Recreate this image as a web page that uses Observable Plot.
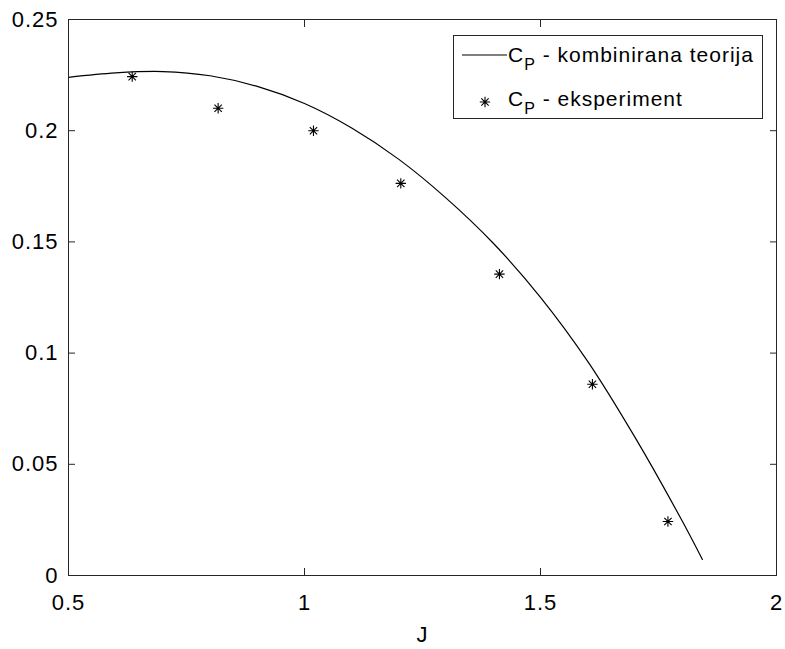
<!DOCTYPE html>
<html>
<head>
<meta charset="utf-8">
<script src="https://cdn.jsdelivr.net/npm/d3@7"></script>
<script src="https://cdn.jsdelivr.net/npm/@observablehq/plot@0.6"></script>
<style>
  html, body { margin: 0; padding: 0; background: white; }
  #wrap { position: relative; width: 785px; height: 649px; }
  #legend { position: absolute; left: 0; top: 0; pointer-events: none; }
</style>
</head>
<body>
<div id="wrap"></div>
<script>
// ---- data ----
const J_theory  = [0.5, 0.6, 0.7, 0.8, 0.9, 1.0, 1.1, 1.2, 1.3, 1.4, 1.5, 1.6, 1.7, 1.8, 1.843];
const Cp_theory = [0.2240, 0.2260, 0.2266, 0.2247, 0.2199, 0.2122, 0.2012, 0.1871, 0.1697, 0.1494, 0.1251, 0.0963, 0.0622, 0.0246, 0.0072];

const J_exp  = [0.635, 0.817, 1.019, 1.204, 1.413, 1.610, 1.770];
const Cp_exp = [0.2243, 0.2101, 0.2000, 0.1763, 0.1355, 0.0860, 0.0243];

const xTicks = [0.5, 1, 1.5, 2];
const yTicks = [0, 0.05, 0.1, 0.15, 0.2, 0.25];

const legendLabels = [
  {sym: "line", main: "C", sub: "P", rest: " - kombinirana teorija"},
  {sym: "star", main: "C", sub: "P", rest: " - eksperiment"}
];
const xLabel = "J";

// ---- tables ----
const theory = J_theory.map((J, i) => ({J, Cp: Cp_theory[i]}));
const exper  = J_exp.map((J, i) => ({J, Cp: Cp_exp[i]}));

// 8-armed asterisk like MATLAB's '*'
const asterisk = {
  draw(ctx, size) {
    const r = Math.sqrt(size / Math.PI);
    const d = r / Math.SQRT2;
    ctx.moveTo(0, -r); ctx.lineTo(0, r);
    ctx.moveTo(-r, 0); ctx.lineTo(r, 0);
    ctx.moveTo(-d, -d); ctx.lineTo(d, d);
    ctx.moveTo(-d, d); ctx.lineTo(d, -d);
  }
};

const FONT = "'Liberation Sans', Arial, Helvetica, sans-serif";
const INK = "#262626";
const blank = () => "";

const chart = Plot.plot({
  width: 785,
  height: 649,
  marginLeft: 68,
  marginRight: 9,
  marginTop: 19,
  marginBottom: 74,
  style: {fontFamily: FONT, fontSize: "22px", background: "white", color: INK, letterSpacing: "1px"},
  x: {domain: [0.5, 2], label: null},
  y: {domain: [0, 0.25], label: null},
  marks: [
    Plot.frame({fill: "white", stroke: null}),
    // inward ticks on all four sides
    Plot.axisX({anchor: "bottom", ticks: xTicks, tickSize: -7, tickFormat: blank, label: null, stroke: INK}),
    Plot.axisX({anchor: "top", ticks: xTicks, tickSize: -7, tickFormat: blank, label: null, stroke: INK}),
    Plot.axisY({anchor: "left", ticks: yTicks, tickSize: -7, tickFormat: blank, label: null, stroke: INK}),
    Plot.axisY({anchor: "right", ticks: yTicks, tickSize: -7, tickFormat: blank, label: null, stroke: INK}),
    // tick labels
    Plot.axisX({anchor: "bottom", ticks: xTicks, tickSize: 0, tickPadding: 19, tickFormat: d => String(d), label: null, fill: "black"}),
    Plot.axisY({anchor: "left", ticks: yTicks, tickSize: 0, tickPadding: 10, tickFormat: d => String(d), label: null, fill: "black"}),
    Plot.line(theory, {x: "J", y: "Cp", curve: "catmull-rom", stroke: "black", strokeWidth: 1.2}),
    Plot.dot(exper, {x: "J", y: "Cp", symbol: asterisk, r: 5.2, fill: "none", stroke: "black", strokeWidth: 1.1}),
    Plot.frame({stroke: INK, strokeWidth: 1}),
    Plot.text([xLabel], {frameAnchor: "bottom", dy: 66, fontSize: 22, fill: "black"})
  ]
});

const wrap = document.getElementById("wrap");
wrap.appendChild(chart);

// ---- legend (inside the axes, top right) ----
const lg = d3.select(wrap).append("svg")
  .attr("id", "legend")
  .attr("width", 785).attr("height", 649)
  .style("font-family", FONT)
  .style("letter-spacing", "1px");

const box = {x: 453.5, y: 35.5, w: 309, h: 83};
lg.append("rect")
  .attr("x", box.x).attr("y", box.y).attr("width", box.w).attr("height", box.h)
  .attr("fill", "white").attr("stroke", INK).attr("stroke-width", 1);

const rowY = [62, 106];
legendLabels.forEach((d, i) => {
  const base = rowY[i];
  if (d.sym === "line") {
    lg.append("line")
      .attr("x1", 462).attr("x2", 507)
      .attr("y1", base - 7).attr("y2", base - 7)
      .attr("stroke", "black").attr("stroke-width", 1.2);
  } else {
    const r = 5.2, q = r / Math.SQRT2, cx = 485, cy = base - 4;
    const p = `M${cx},${cy - r}L${cx},${cy + r}M${cx - r},${cy}L${cx + r},${cy}` +
              `M${cx - q},${cy - q}L${cx + q},${cy + q}M${cx - q},${cy + q}L${cx + q},${cy - q}`;
    lg.append("path").attr("d", p).attr("stroke", "black").attr("stroke-width", 1.1).attr("fill", "none");
  }
  const t = lg.append("text").attr("x", 508).attr("y", base).attr("fill", "black").attr("font-size", 21);
  t.append("tspan").text(d.main);
  t.append("tspan").attr("font-size", 16).attr("dy", 8).text(d.sub);
  t.append("tspan").attr("dy", -8).text(d.rest);
});
</script>
</body>
</html>
